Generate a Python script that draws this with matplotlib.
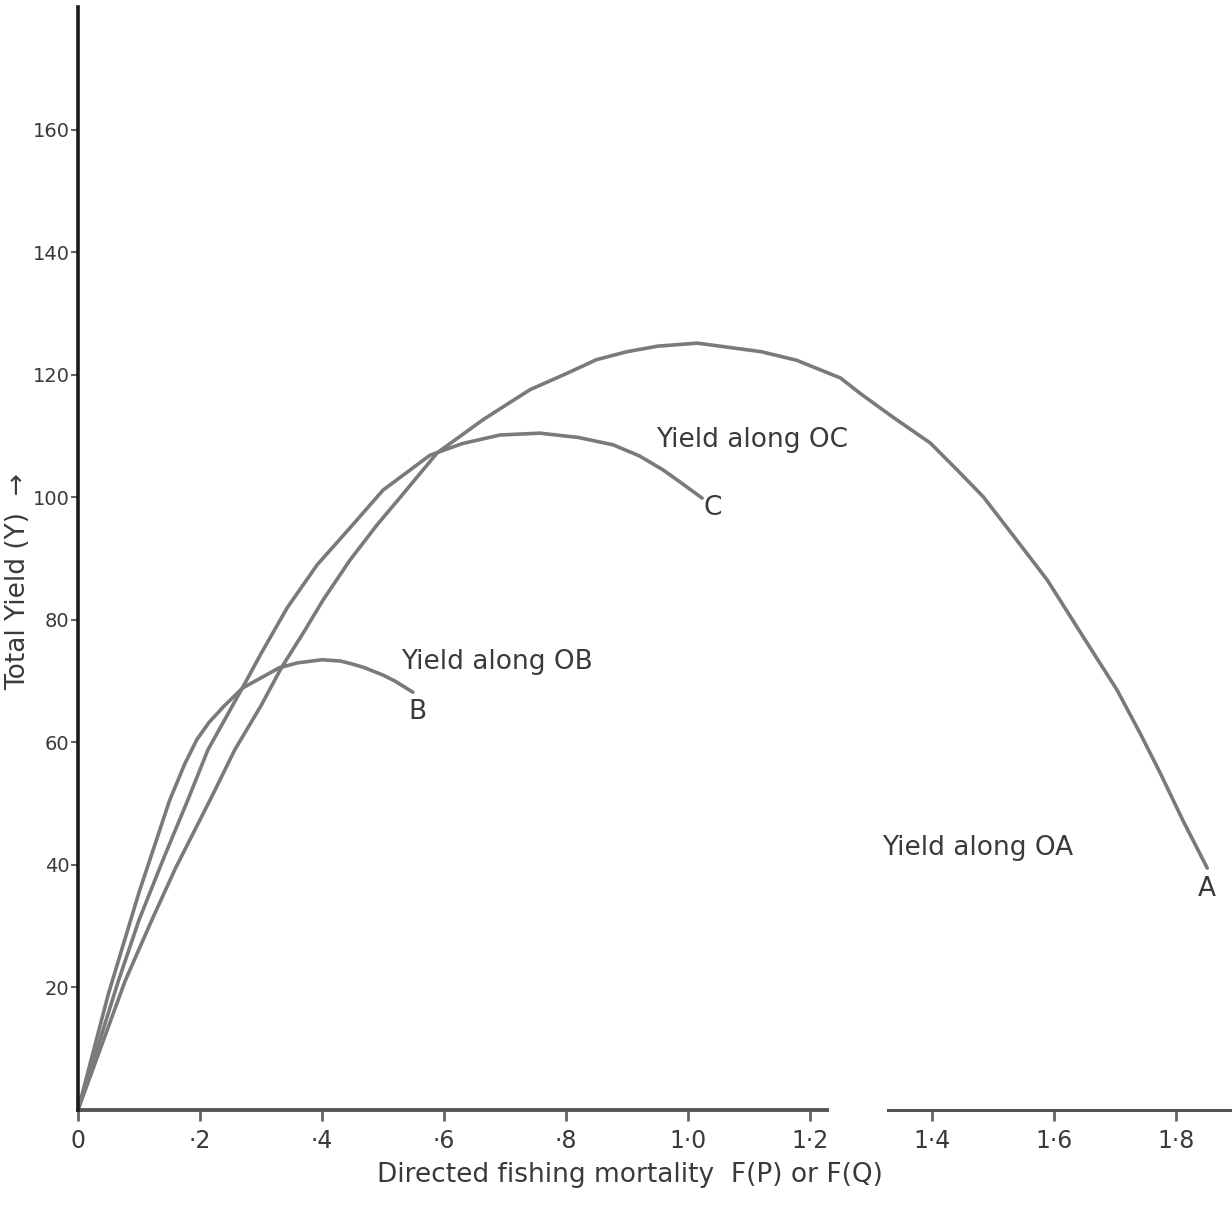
import matplotlib
matplotlib.use("Agg")
import matplotlib.pyplot as plt

# yield along OA
oa_f = [0, 0.077, 0.121, 0.16, 0.221, 0.257, 0.3, 0.334, 0.37, 0.402, 0.446,
        0.49, 0.528, 0.589, 0.664, 0.7, 0.741, 0.8, 0.85, 0.9, 0.95, 1.015,
        1.12, 1.178, 1.25, 1.282, 1.336, 1.397, 1.441, 1.484, 1.539, 1.589,
        1.648, 1.703, 1.741, 1.774, 1.811, 1.851]
oa_y = [0, 21, 31, 39.5, 51.5, 58.8, 66, 72.3, 78, 83.3, 89.8,
        95.5, 100, 107.3, 112.7, 115, 117.6, 120.2, 122.5, 123.8, 124.7, 125.2,
        123.8, 122.4, 119.5, 117, 113.1, 108.9, 104.5, 100.1, 93, 86.5,
        77.2, 68.6, 61.5, 55, 47.3, 39.5]

# yield along OC
oc_f = [0, 0.066, 0.1, 0.14, 0.18, 0.213, 0.27, 0.3, 0.343, 0.392, 0.45, 0.5,
        0.577, 0.63, 0.692, 0.757, 0.82, 0.877, 0.92, 0.959, 0.99, 1.023]
oc_y = [0, 21, 31, 41, 50.6, 58.8, 69, 74.5, 82, 89, 95.5, 101.2,
        106.9, 108.8, 110.2, 110.5, 109.8, 108.6, 106.8, 104.5, 102.3, 99.9]

# yield along OB
ob_f = [0, 0.05, 0.1, 0.15, 0.175, 0.195, 0.215, 0.24, 0.27, 0.33, 0.36, 0.4,
        0.43, 0.45, 0.47, 0.5, 0.52, 0.549]
ob_y = [0, 19, 35.5, 50.5, 56.5, 60.5, 63.3, 66, 68.9, 72.2, 73, 73.5,
        73.3, 72.8, 72.2, 71, 70, 68.2]

x_ticks = [0, 0.2, 0.4, 0.6, 0.8, 1.0, 1.2, 1.4, 1.6, 1.8]
x_labels = ["0", "·2", "·4", "·6", "·8", "1·0", "1·2", "1·4", "1·6", "1·8"]
y_ticks = [20, 40, 60, 80, 100, 120, 140, 160]

curve_col = "#7a7a7a"
ink = "#3a3a3a"

fig = plt.figure(figsize=(12.32, 12.07), dpi=100)
ax = fig.add_axes([0.0633, 0.0804, 0.9359, 0.9134])

for f, y in [(oa_f, oa_y), (oc_f, oc_y), (ob_f, ob_y)]:
    ax.plot(f, y, color=curve_col, lw=2.6, solid_capstyle="round",
            solid_joinstyle="round")

ax.set_xlim(0, 1.89)
ax.set_ylim(0, 180)

# axes: left spine only, bottom axis drawn with a break
for s in ["top", "right", "bottom"]:
    ax.spines[s].set_visible(False)
ax.spines["left"].set_linewidth(2.6)
ax.spines["left"].set_color("#1a1a1a")
ax.plot([0, 1.228], [0, 0], color="#555555", lw=2.8, clip_on=False)
ax.plot([1.328, 1.89], [0, 0], color="#555555", lw=2.2, clip_on=False)

ax.set_xticks(x_ticks)
ax.set_xticklabels(x_labels)
ax.set_yticks(y_ticks)
ax.tick_params(axis="x", direction="out", length=8, width=2, color="#666666",
               labelsize=17, labelcolor=ink, pad=6)
ax.tick_params(axis="y", direction="out", length=5, width=1.5, color="#666666",
               labelsize=14, labelcolor=ink, pad=1)

txt = dict(color=ink, fontsize=19, ha="center", va="center")
ax.text(1.105, 109.4, "Yield along OC", **txt)
ax.text(0.687, 73.1, "Yield along OB", **txt)
ax.text(1.474, 42.8, "Yield along OA", **txt)
ax.text(1.851, 36.0, "A", **txt)
ax.text(0.557, 65.0, "B", **txt)
ax.text(1.041, 98.3, "C", **txt)

fig.text(0.511, 0.0265, "Directed fishing mortality  F(P) or F(Q)",
         color=ink, fontsize=19, ha="center", va="center")
fig.text(0.0145, 0.518, "Total Yield (Y)  →", color=ink, fontsize=19,
         ha="center", va="center", rotation=90)

fig.savefig("out.png", dpi=100, facecolor="white")
